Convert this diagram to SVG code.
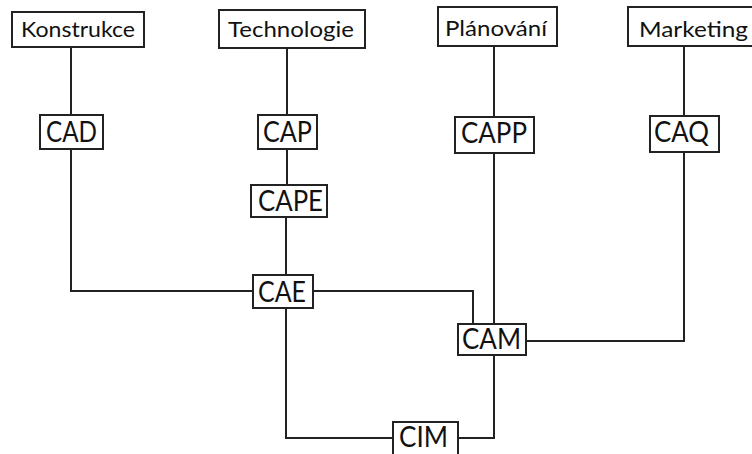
<svg xmlns="http://www.w3.org/2000/svg" width="752" height="454" viewBox="0 0 752 454">
<style>
.box{fill:#fff;stroke:#222;stroke-width:2}
.ln{fill:none;stroke:#222;stroke-width:2}
.t{font-family:Lato,"Open Sans",sans-serif;fill:#111}
.s{font-size:21px}
.b{font-size:28px}
</style>
<rect width="752" height="454" fill="#fff"/>
<g id="connectors">
<path class="ln" d="M71 47V115"/>
<path class="ln" d="M71 149V291H253"/>
<path class="ln" d="M287 48V115"/>
<path class="ln" d="M287 149V185"/>
<path class="ln" d="M286 217V275"/>
<path class="ln" d="M313 291H473V324"/>
<path class="ln" d="M494 46V117"/>
<path class="ln" d="M494 153V324"/>
<path class="ln" d="M684 46V116"/>
<path class="ln" d="M684 152V341H526"/>
<path class="ln" d="M286 308V438H393"/>
<path class="ln" d="M494 355V438H458"/>
</g>
<g id="konstrukce"><rect class="box" x="12" y="12" width="132" height="35"/><text class="t s" x="21" y="37" textLength="114" lengthAdjust="spacingAndGlyphs">Konstrukce</text></g>
<g id="technologie"><rect class="box" x="219" y="10" width="146" height="38"/><text class="t s" x="228" y="37" textLength="126" lengthAdjust="spacingAndGlyphs">Technologie</text></g>
<g id="planovani"><rect class="box" x="438" y="7" width="119" height="39"/><text class="t s" x="445" y="36" textLength="102" lengthAdjust="spacingAndGlyphs">Plánování</text></g>
<g id="marketing"><rect class="box" x="628" y="7" width="140" height="39"/><text class="t s" x="639" y="37" textLength="109" lengthAdjust="spacingAndGlyphs">Marketing</text></g>
<g id="cad"><rect class="box" x="40" y="115" width="63" height="34"/><text class="t b" x="46" y="142" textLength="51" lengthAdjust="spacingAndGlyphs">CAD</text></g>
<g id="cap"><rect class="box" x="258" y="115" width="59" height="34"/><text class="t b" x="263" y="142" textLength="49" lengthAdjust="spacingAndGlyphs">CAP</text></g>
<g id="capp"><rect class="box" x="455" y="117" width="79" height="36"/><text class="t b" x="461" y="143" textLength="66" lengthAdjust="spacingAndGlyphs">CAPP</text></g>
<g id="caq"><rect class="box" x="650" y="116" width="69" height="36"/><text class="t b" x="654" y="142" textLength="55" lengthAdjust="spacingAndGlyphs">CAQ</text></g>
<g id="cape"><rect class="box" x="251" y="185" width="76" height="32"/><text class="t b" x="258" y="211" textLength="65" lengthAdjust="spacingAndGlyphs">CAPE</text></g>
<g id="cae"><rect class="box" x="253" y="275" width="60" height="33"/><text class="t b" x="258" y="302" textLength="48" lengthAdjust="spacingAndGlyphs">CAE</text></g>
<g id="cam"><rect class="box" x="458" y="324" width="68" height="31"/><text class="t b" x="462" y="349" textLength="59" lengthAdjust="spacingAndGlyphs">CAM</text></g>
<g id="cim"><rect class="box" x="393" y="422" width="65" height="40"/><text class="t b" x="399" y="447" textLength="49" lengthAdjust="spacingAndGlyphs">CIM</text></g>
</svg>
